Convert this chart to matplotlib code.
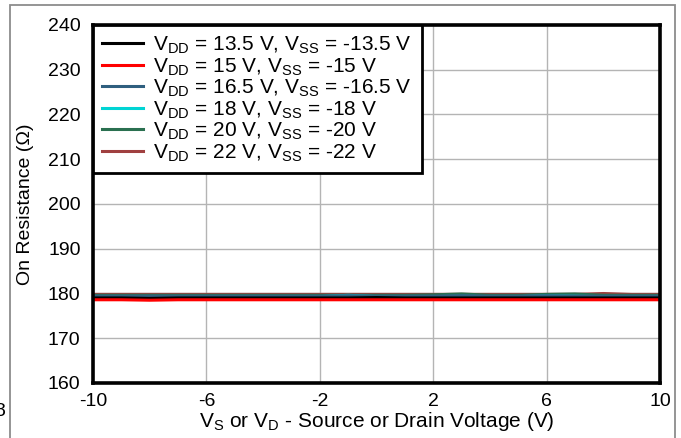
import matplotlib.pyplot as plt
from matplotlib.patches import Rectangle

plt.rcParams['font.family'] = ['Liberation Sans', 'DejaVu Sans']
plt.rcParams['mathtext.fontset'] = 'custom'
plt.rcParams['mathtext.rm'] = 'Liberation Sans'
plt.rcParams['axes.unicode_minus'] = False

# source / drain voltage sweep (V)
v_src = [-10, -9, -8, -7, -6, -5, -4, -3, -2, -1, 0, 1, 2, 3, 4, 5, 6, 7, 8, 9, 10]

# on resistance (ohm) for each supply pair
r_13p5 = [179.0, 179.0, 178.9, 179.0, 179.0, 179.0, 179.0, 179.0, 179.0, 179.0, 179.1,
          179.0, 179.0, 179.0, 179.0, 179.0, 179.0, 179.0, 179.0, 179.0, 179.0]
r_15 = [178.6, 178.6, 178.5, 178.6, 178.6, 178.6, 178.6, 178.6, 178.6, 178.6, 178.6,
        178.6, 178.6, 178.6, 178.6, 178.6, 178.6, 178.6, 178.6, 178.6, 178.6]
r_16p5 = [179.4, 179.4, 179.4, 179.4, 179.4, 179.4, 179.4, 179.4, 179.4, 179.5, 179.4,
          179.4, 179.4, 179.5, 179.4, 179.4, 179.5, 179.4, 179.4, 179.4, 179.4]
r_18 = [179.3, 179.3, 179.3, 179.3, 179.3, 179.3, 179.3, 179.3, 179.3, 179.6, 179.3,
        179.3, 179.3, 179.4, 179.3, 179.3, 179.5, 179.4, 179.3, 179.3, 179.3]
r_20 = [179.6, 179.6, 179.6, 179.6, 179.6, 179.6, 179.6, 179.6, 179.6, 179.6, 179.6,
        179.6, 179.7, 179.9, 179.6, 179.6, 179.8, 179.9, 179.6, 179.6, 179.6]
r_22 = [179.8, 179.8, 179.8, 179.8, 179.8, 179.8, 179.8, 179.8, 179.8, 179.8, 179.8,
        179.8, 179.8, 179.8, 179.8, 179.8, 179.8, 179.8, 180.0, 179.8, 179.8]

labels = [
    r'V$_\mathregular{DD}$ = 13.5 V, V$_\mathregular{SS}$ = -13.5 V',
    r'V$_\mathregular{DD}$ = 15 V, V$_\mathregular{SS}$ = -15 V',
    r'V$_\mathregular{DD}$ = 16.5 V, V$_\mathregular{SS}$ = -16.5 V',
    r'V$_\mathregular{DD}$ = 18 V, V$_\mathregular{SS}$ = -18 V',
    r'V$_\mathregular{DD}$ = 20 V, V$_\mathregular{SS}$ = -20 V',
    r'V$_\mathregular{DD}$ = 22 V, V$_\mathregular{SS}$ = -22 V',
]
colors = ['#000000', '#ff0000', '#2f5f7f', '#00d4d4', '#2a7050', '#a04040']
series = [r_13p5, r_15, r_16p5, r_18, r_20, r_22]

x_ticks = [-10, -6, -2, 2, 6, 10]
y_ticks = [160, 170, 180, 190, 200, 210, 220, 230, 240]

fig = plt.figure(figsize=(6.81, 4.38), dpi=100)
ax = fig.add_axes([93 / 681, 1 - 383 / 438, 567 / 681, 358 / 438])

# thin gray frame around the whole panel
fig.patches.append(Rectangle((10 / 681, -0.1), 665 / 681, 1 - 5 / 438 + 0.1,
                             transform=fig.transFigure, fill=False,
                             edgecolor='#8c8c8c', linewidth=1.3))
fig.text(-6 / 681, 1 - 412 / 438, '8', fontsize=14, va='center', ha='left')

draw_order = [5, 4, 3, 2, 0, 1]
lines = {}
for i in draw_order:
    lines[i], = ax.plot(v_src, series[i], color=colors[i], lw=2.2, label=labels[i])

ax.set_xlim(-10, 10)
ax.set_ylim(160, 240)
ax.set_xticks(x_ticks)
ax.set_yticks(y_ticks)
ax.grid(True, color='#b4b4b4', lw=1.0)
ax.set_axisbelow(True)
ax.tick_params(length=0, labelsize=14)
ax.tick_params(axis='y', pad=9)
ax.tick_params(axis='x', pad=7)
for s in ax.spines.values():
    s.set_linewidth(2.6)
    s.set_color('black')

ax.set_xlabel(r'V$_\mathregular{S}$ or V$_\mathregular{D}$ - Source or Drain Voltage (V)',
              fontsize=15, labelpad=0)
ax.set_ylabel('On Resistance (Ω)', fontsize=14, labelpad=10)

leg = ax.legend([lines[i] for i in range(6)], labels, loc='upper left', fontsize=15,
                handlelength=1.95, handletextpad=0.5, labelspacing=0.0,
                borderaxespad=0, borderpad=0.45, fancybox=False, framealpha=1)
leg.get_frame().set_edgecolor('black')
leg.get_frame().set_linewidth(2.0)

fig.savefig('out.png', dpi=100)
plt.close(fig)
